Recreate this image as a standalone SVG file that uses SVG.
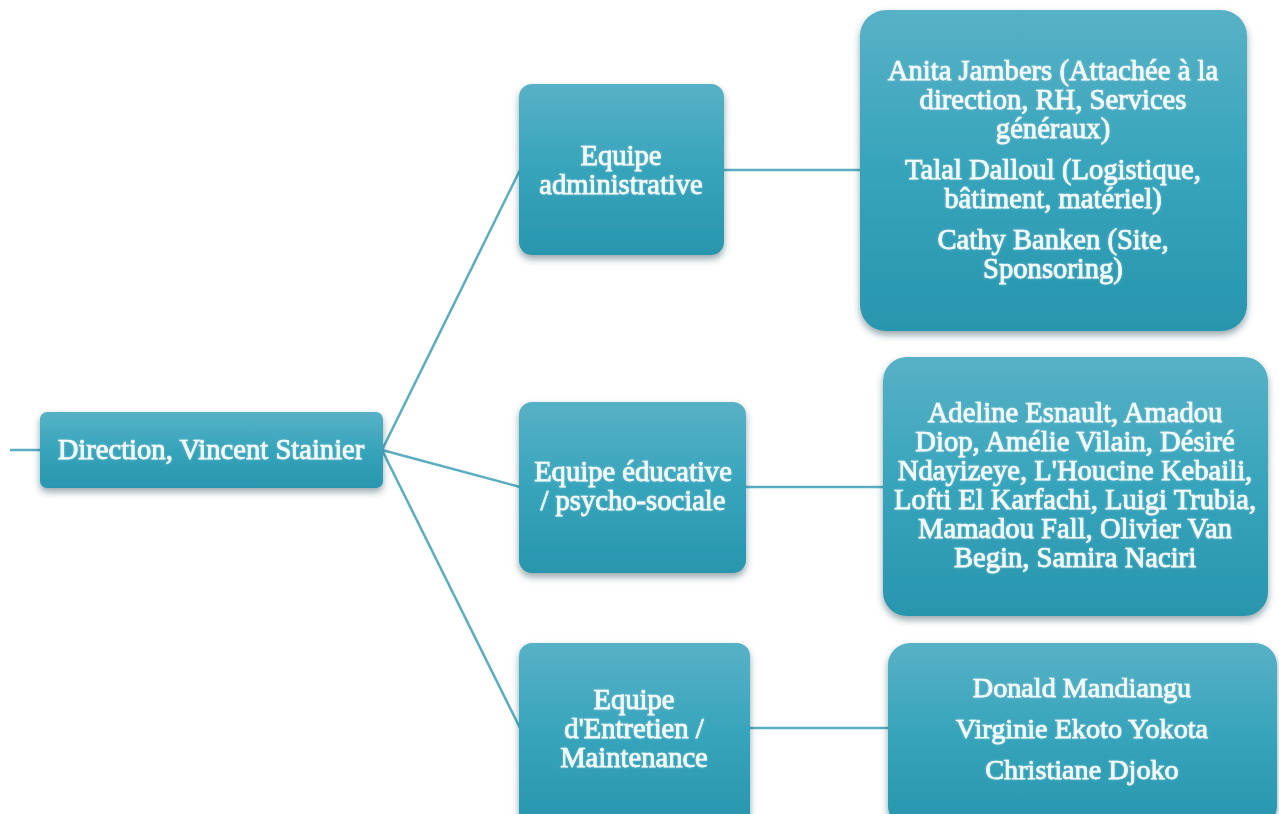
<svg xmlns="http://www.w3.org/2000/svg" width="1279" height="814" viewBox="0 0 1279 814">
<defs>
<linearGradient id="g" x1="0" y1="0" x2="0" y2="1">
<stop offset="0" stop-color="#58b1c6"/>
<stop offset="0.5" stop-color="#36a4bb"/>
<stop offset="1" stop-color="#2896ae"/>
</linearGradient>
<filter id="sh" x="-10%" y="-10%" width="120%" height="125%">
<feDropShadow dx="0" dy="4" stdDeviation="3.5" flood-color="#1a3a44" flood-opacity="0.45"/>
</filter>
<filter id="glow" x="-5%" y="-20%" width="110%" height="140%">
<feGaussianBlur in="SourceAlpha" stdDeviation="1.2" result="b"/>
<feFlood flood-color="#bfe3ec" flood-opacity="0.5"/>
<feComposite in2="b" operator="in" result="c"/>
<feMerge><feMergeNode in="c"/><feMergeNode in="SourceGraphic"/></feMerge>
</filter>
</defs>
<style>
.box{fill:url(#g);filter:url(#sh)}
.t{font-family:"Liberation Serif","Times New Roman",serif;font-size:28.6px;fill:#f3fafc;stroke:#f3fafc;stroke-width:0.75;text-anchor:middle;filter:url(#glow)}
.s{font-size:28.2px}
.c{stroke:#5aaec0;stroke-width:2.5;fill:none}
</style>
<rect width="1279" height="814" fill="#ffffff"/>
<g id="connectors">
<line class="c" x1="10" y1="450" x2="42" y2="450"/>
<line class="c" x1="382" y1="450" x2="520" y2="170"/>
<line class="c" x1="382" y1="450" x2="520" y2="487"/>
<line class="c" x1="382" y1="450" x2="520" y2="728"/>
<line class="c" x1="722" y1="170" x2="862" y2="170"/>
<line class="c" x1="744" y1="487" x2="885" y2="487"/>
<line class="c" x1="748" y1="728" x2="890" y2="728"/>
</g>
<g id="direction">
<rect class="box" x="40" y="412" width="343" height="76" rx="7"/>
<text class="t" x="211" y="459">Direction, Vincent Stainier</text>
</g>
<g id="equipe-admin">
<rect class="box" x="519" y="84" width="205" height="171" rx="13"/>
<text class="t" x="621" y="165">Equipe</text>
<text class="t" x="621" y="194">administrative</text>
</g>
<g id="equipe-educ">
<rect class="box" x="519" y="402" width="227" height="171" rx="13"/>
<text class="t" x="633" y="481">Equipe éducative</text>
<text class="t" x="633" y="510">/ psycho-sociale</text>
</g>
<g id="equipe-entretien">
<rect class="box" x="519" y="643" width="231" height="185" rx="13"/>
<text class="t" x="634" y="709">Equipe</text>
<text class="t" x="634" y="738">d'Entretien /</text>
<text class="t" x="634" y="767">Maintenance</text>
</g>
<g id="admin-members">
<rect class="box" x="860" y="10" width="387" height="321" rx="26"/>
<text class="t" x="1053" y="80">Anita Jambers (Attachée à la</text>
<text class="t" x="1053" y="109">direction, RH, Services</text>
<text class="t" x="1053" y="138">généraux)</text>
<text class="t" x="1053" y="179">Talal Dalloul (Logistique,</text>
<text class="t" x="1053" y="208">bâtiment, matériel)</text>
<text class="t" x="1053" y="249">Cathy Banken (Site,</text>
<text class="t" x="1053" y="278">Sponsoring)</text>
</g>
<g id="educ-members">
<rect class="box" x="883" y="357" width="385" height="259" rx="24"/>
<text class="t" x="1075" y="422">Adeline Esnault, Amadou</text>
<text class="t" x="1075" y="451">Diop, Amélie Vilain, Désiré</text>
<text class="t" x="1075" y="480">Ndayizeye, L'Houcine Kebaili,</text>
<text class="t" x="1075" y="509">Lofti El Karfachi, Luigi Trubia,</text>
<text class="t" x="1075" y="538">Mamadou Fall, Olivier Van</text>
<text class="t" x="1075" y="567">Begin, Samira Naciri</text>
</g>
<g id="entretien-members">
<rect class="box" x="888" y="643" width="389" height="185" rx="22"/>
<text class="t s" x="1082" y="697">Donald Mandiangu</text>
<text class="t s" x="1082" y="738">Virginie Ekoto Yokota</text>
<text class="t s" x="1082" y="779">Christiane Djoko</text>
</g>
</svg>
